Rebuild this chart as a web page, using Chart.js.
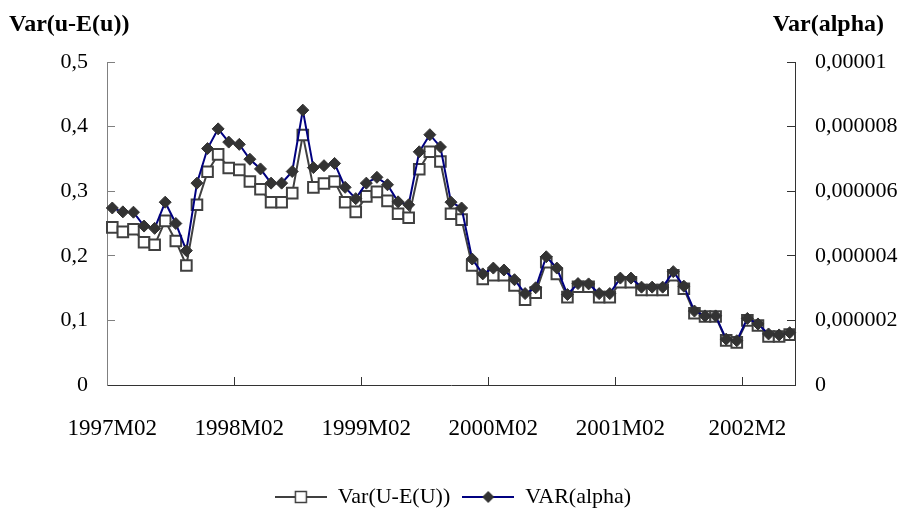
<!DOCTYPE html>
<html>
<head>
<meta charset="utf-8">
<script src="https://cdn.jsdelivr.net/npm/chart.js@4"></script>
<style>
  html, body { margin: 0; padding: 0; background: #fff; }
  #wrap { width: 906px; height: 512px; }
</style>
</head>
<body>
<div id="wrap"><canvas id="chart" width="906" height="512"></canvas></div>
<script>
// months 1997M02 .. 2002M06
var months = [];
for (var yr = 1997; yr <= 2002; yr++) {
  for (var mo = 1; mo <= 12; mo++) {
    if (yr === 1997 && mo < 2) continue;
    if (yr === 2002 && mo > 6) break;
    months.push(yr + 'M' + (mo < 10 ? '0' + mo : mo));
  }
}

// labels shown every 12 months
var tickLabels = ['1997M02', '1998M02', '1999M02', '2000M02', '2001M02', '2002M2'];

var varU = [
  0.244, 0.237, 0.241, 0.221, 0.217, 0.254, 0.223, 0.185, 0.279, 0.330,
  0.357, 0.336, 0.333, 0.315, 0.303, 0.283, 0.283, 0.297, 0.387, 0.306,
  0.312, 0.315, 0.283, 0.268, 0.292, 0.299, 0.285, 0.265, 0.259, 0.334,
  0.361, 0.346, 0.265, 0.256, 0.185, 0.164, 0.170, 0.170, 0.154, 0.132,
  0.143, 0.190, 0.172, 0.136, 0.152, 0.152, 0.136, 0.136, 0.159, 0.159,
  0.147, 0.147, 0.147, 0.170, 0.149, 0.111, 0.106, 0.106, 0.069, 0.066,
  0.100, 0.092, 0.075, 0.075, 0.078
];

var varAlpha = [
  5.48e-6, 5.36e-6, 5.35e-6, 4.92e-6, 4.85e-6, 5.66e-6, 5.00e-6, 4.16e-6, 6.25e-6, 7.32e-6,
  7.93e-6, 7.52e-6, 7.45e-6, 6.99e-6, 6.69e-6, 6.25e-6, 6.25e-6, 6.61e-6, 8.51e-6, 6.73e-6,
  6.79e-6, 6.86e-6, 6.12e-6, 5.77e-6, 6.25e-6, 6.43e-6, 6.20e-6, 5.67e-6, 5.58e-6, 7.22e-6,
  7.75e-6, 7.37e-6, 5.66e-6, 5.48e-6, 3.90e-6, 3.44e-6, 3.62e-6, 3.56e-6, 3.26e-6, 2.83e-6,
  3.01e-6, 3.97e-6, 3.62e-6, 2.80e-6, 3.14e-6, 3.13e-6, 2.83e-6, 2.83e-6, 3.31e-6, 3.31e-6,
  3.03e-6, 3.03e-6, 3.03e-6, 3.51e-6, 3.06e-6, 2.29e-6, 2.14e-6, 2.14e-6, 1.42e-6, 1.37e-6,
  2.06e-6, 1.89e-6, 1.58e-6, 1.55e-6, 1.62e-6
];

var serif = "'Liberation Serif', 'Times New Roman', serif";
Chart.defaults.font.family = serif;
Chart.defaults.font.size = 22;
Chart.defaults.color = '#000';

function fmt(v, dec) {
  var s = v.toFixed(dec);
  s = s.replace(/0+$/, '').replace(/\.$/, '');
  return s.replace('.', ',');
}

function legendIcon(kind) {
  var c = document.createElement('canvas');
  c.width = 52;
  c.height = 16;
  var g = c.getContext('2d');
  g.lineWidth = 2;
  g.strokeStyle = kind === 'square' ? '#404040' : '#000080';
  g.beginPath();
  g.moveTo(0, 8);
  g.lineTo(52, 8);
  g.stroke();
  if (kind === 'square') {
    g.fillStyle = '#fff';
    g.strokeStyle = '#404040';
    g.lineWidth = 1.5;
    g.fillRect(20.5, 2.5, 11, 11);
    g.strokeRect(20.5, 2.5, 11, 11);
  } else {
    g.fillStyle = '#333';
    g.beginPath();
    g.moveTo(26, 2);
    g.lineTo(32, 8);
    g.lineTo(26, 14);
    g.lineTo(20, 8);
    g.closePath();
    g.fill();
  }
  return c;
}

var headers = {
  id: 'headers',
  afterDraw: function(chart) {
    var ctx = chart.ctx;
    ctx.save();
    ctx.font = 'bold 24px ' + serif;
    ctx.fillStyle = '#000';
    ctx.textBaseline = 'middle';
    ctx.textAlign = 'left';
    ctx.fillText('Var(u-E(u))', 9, 25);
    ctx.textAlign = 'right';
    ctx.fillText('Var(alpha)', 884, 25);
    ctx.restore();
  }
};

var ctx = document.getElementById('chart').getContext('2d');
new Chart(ctx, {
  type: 'line',
  data: {
    labels: months,
    datasets: [{
      label: 'Var(U-E(U))',
      data: varU,
      yAxisID: 'y',
      borderColor: '#404040',
      borderWidth: 2,
      pointStyle: 'rect',
      pointRadius: 7.5,
      pointBackgroundColor: '#fff',
      pointBorderColor: '#404040',
      pointBorderWidth: 2,
      order: 1
    }, {
      label: 'VAR(alpha)',
      data: varAlpha,
      yAxisID: 'y1',
      borderColor: '#000080',
      borderWidth: 2,
      pointStyle: 'rectRot',
      pointRadius: 6,
      pointBackgroundColor: '#333',
      pointBorderColor: '#333',
      pointBorderWidth: 1,
      order: 0
    }]
  },
  options: {
    responsive: false,
    animation: false,
    devicePixelRatio: 1,
    layout: { padding: { top: 62, left: 0, right: 0, bottom: -6 } },
    plugins: {
      title: { display: false },
      tooltip: { enabled: false },
      legend: {
        position: 'bottom',
        labels: {
          usePointStyle: true,
          pointStyleWidth: 52,
          padding: 12,
          color: '#000',
          font: { size: 22 },
          generateLabels: function(chart) {
            return [
              { text: 'Var(U-E(U))', pointStyle: legendIcon('square'), datasetIndex: 0, lineWidth: 0, hidden: false, fontColor: '#000' },
              { text: 'VAR(alpha)', pointStyle: legendIcon('diamond'), datasetIndex: 1, lineWidth: 0, hidden: false, fontColor: '#000' }
            ];
          }
        }
      }
    },
    scales: {
      x: {
        type: 'category',
        offset: true,
        grid: {
          offset: true,
          drawOnChartArea: false,
          tickLength: -8,
          tickColor: function(c) { return c.index % 12 === 0 ? '#333' : 'rgba(0,0,0,0)'; }
        },
        border: { color: '#333', width: 1 },
        ticks: {
          autoSkip: false,
          maxRotation: 0,
          minRotation: 0,
          padding: 38,
          font: { size: 23 },
          callback: function(v, i) { return i % 12 === 0 ? tickLabels[i / 12] : ''; }
        },
        afterFit: function(s) { s.height = 89; }
      },
      y: {
        position: 'left',
        min: 0,
        max: 0.5,
        grid: { drawOnChartArea: false, tickLength: -8, tickColor: '#808080' },
        border: { color: '#808080', width: 1 },
        ticks: { stepSize: 0.1, padding: 27, callback: function(v) { return fmt(v, 1); } },
        afterFit: function(s) { s.width = 107; }
      },
      y1: {
        position: 'right',
        min: 0,
        max: 0.00001,
        grid: { drawOnChartArea: false, tickLength: -8, tickColor: '#333' },
        border: { color: '#333', width: 1 },
        ticks: { stepSize: 0.000002, padding: 28, callback: function(v) { return fmt(v, 6); } },
        afterFit: function(s) { s.width = 111; }
      }
    }
  },
  plugins: [headers]
});
</script>
</body>
</html>
